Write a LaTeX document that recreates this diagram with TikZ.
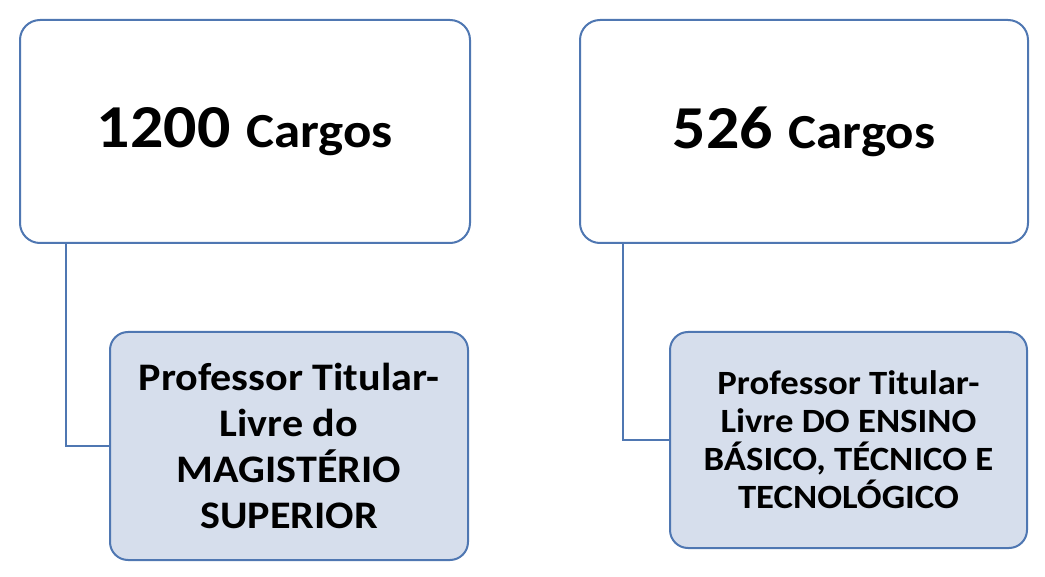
\documentclass[tikz,border=0pt]{standalone}
\usepackage{fontspec}
\setmainfont{Carlito}[FakeStretch=1.08]
\definecolor{edge}{RGB}{79,119,178}
\definecolor{paleblue}{RGB}{214,222,236}
\begin{document}
\begin{tikzpicture}[x=1pt,y=-1pt,
  topbox/.style={draw=edge, line width=2pt, rounded corners=20pt, fill=white, inner sep=0pt},
  subbox/.style={draw=edge, line width=2pt, rounded corners=18pt, fill=paleblue, inner sep=0pt, align=center},
  link/.style={draw=edge, line width=2pt}]
\useasboundingbox (0,0) rectangle (1045,577);
\node[topbox, minimum width=450pt, minimum height=223pt] (tl) at (245,131.5)
  {\bfseries{\fontsize{61}{66}\selectfont 1200}\hspace{16pt}{\fontsize{49}{52}\selectfont Cargos}};
\node[topbox, minimum width=448pt, minimum height=223pt] (tr) at (804,131.5)
  {\bfseries{\fontsize{61}{66}\selectfont 526}\hspace{16pt}{\fontsize{49}{52}\selectfont Cargos}};
\node[subbox, minimum width=358pt, minimum height=228pt, font=\bfseries\fontsize{39}{46}\selectfont] (bl) at (289,446)
  {Professor Titular-\\Livre do\\MAGISTÉRIO\\SUPERIOR};
\node[subbox, minimum width=357pt, minimum height=216pt, font=\bfseries\fontsize{34}{38}\selectfont] (br) at (848.5,440)
  {Professor Titular-\\Livre DO ENSINO\\BÁSICO, TÉCNICO E\\TECNOLÓGICO};
\draw[link] ([xshift=47pt]tl.south west) |- (bl.west);
\draw[link] ([xshift=44pt]tr.south west) |- (br.west);
\end{tikzpicture}
\end{document}
